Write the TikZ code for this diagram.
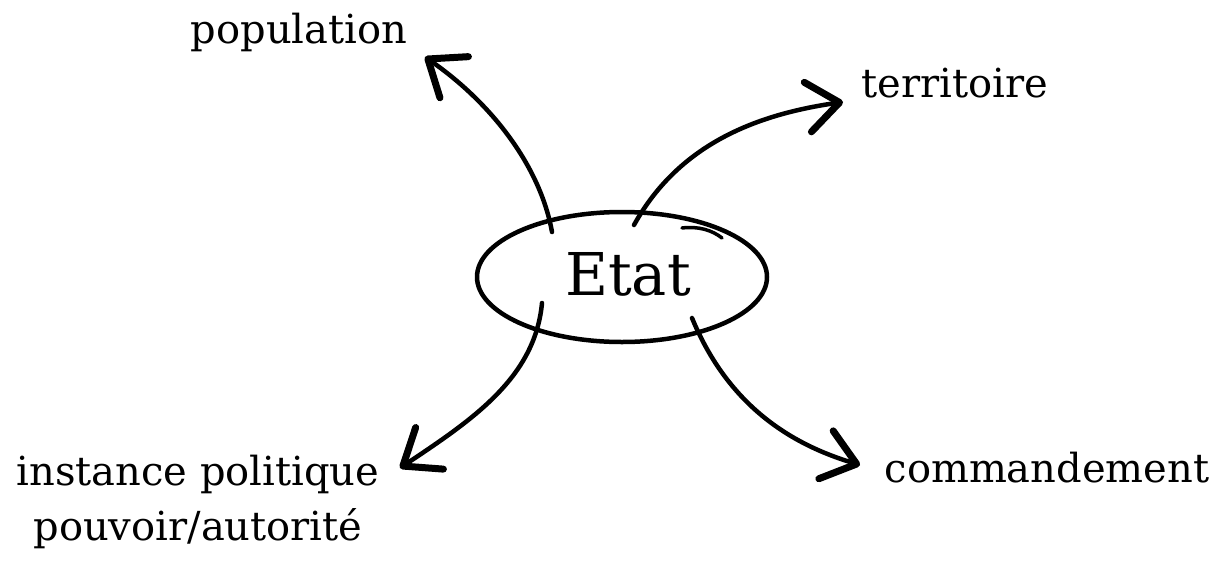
\documentclass[tikz,border=0pt]{standalone}
\usepackage{fontspec}
\setmainfont{DejaVu Serif}
\usetikzlibrary{arrows.meta,shapes.geometric}
\tikzset{
  lbl/.style={anchor=base, inner sep=0pt, font=\fontsize{40}{48}\selectfont},
  conn/.style={line width=4.5pt, line cap=round,
    -{Straight Barb[length=32pt, width=50pt, line width=7pt, round]}},
  rim/.style={line width=4.5pt}
}
\begin{document}
\begin{tikzpicture}[x=1pt,y=-1pt]
\useasboundingbox (0,0) rectangle (1232,560);
% centre
\node[draw, rim, ellipse, minimum width=290pt, minimum height=130pt, inner sep=0pt] (etat) at (622,277) {};
\node[anchor=base, inner sep=0pt, font=\fontsize{59}{66}\selectfont] (etatlbl) at (628,295) {Etat};
\draw[line width=3.5pt, line cap=round] (682,228) .. controls (698,226) and (712,230) .. (722,238);
% labels
\node[lbl] (pop) at (299,43) {population};
\node[lbl] (terr) at (955,97) {territoire};
\node[lbl] (inst) at (198,485) {instance politique};
\node[lbl] (pouv) at (198,540) {pouvoir/autorit\'e};
\node[lbl] (comm) at (1047,482) {commandement};
% arrow ends
\coordinate (s1) at (552,232);
\coordinate (e1) at (425,57);
\coordinate (s2) at (634,225);
\coordinate (e2) at (843,102);
\coordinate (s3) at (542,303);
\coordinate (e3) at (400,468);
\coordinate (s4) at (692,318);
\coordinate (e4) at (860,465);
\draw[conn] (s1) .. controls (540,165) and (490,102) .. (e1);
\draw[conn] (s2) .. controls (680,142) and (760,114) .. (e2);
\draw[conn] (s3) .. controls (535,378) and (472,420) .. (e3);
\draw[conn] (s4) .. controls (728,405) and (790,444) .. (e4);
\end{tikzpicture}
\end{document}
